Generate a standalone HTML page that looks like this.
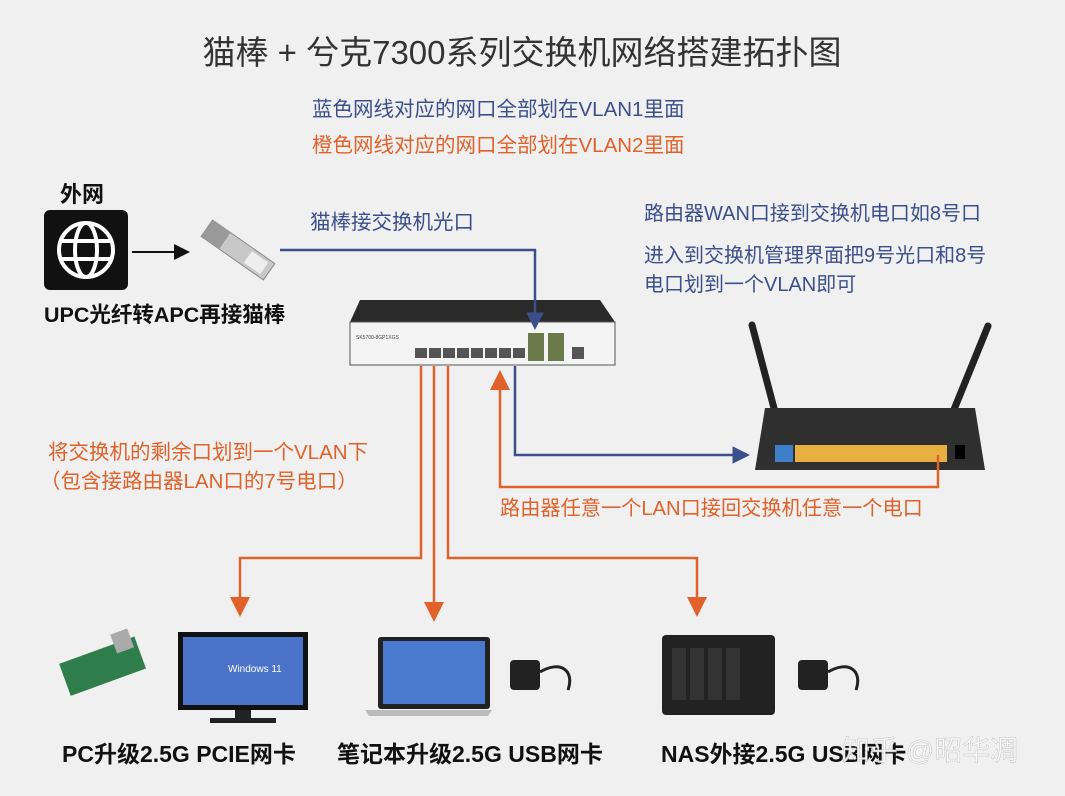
<!DOCTYPE html>
<html><head><meta charset="utf-8"><style>
body{margin:0;width:1065px;height:796px;background:#f0f0f0;overflow:hidden;font-family:"Liberation Sans","Noto Sans CJK SC",sans-serif}
svg{position:absolute;left:0;top:0}
</style></head><body>
<svg width="1065" height="796" viewBox="0 0 1065 796" font-family="Liberation Sans, Noto Sans CJK SC, sans-serif">
<defs>
<marker id="ab" markerWidth="7" markerHeight="7" refX="5" refY="3.5" orient="auto" viewBox="0 0 7 7"><path d="M0,0 L7,3.5 L0,7z" fill="#3b4f8c"/></marker>
<marker id="ao" markerWidth="8" markerHeight="8" refX="6" refY="4" orient="auto" viewBox="0 0 8 8"><path d="M0,0 L8,4 L0,8z" fill="#e0622a"/></marker>
<marker id="ak" markerWidth="8" markerHeight="8" refX="6" refY="4" orient="auto" viewBox="0 0 8 8"><path d="M0,0 L8,4 L0,8z" fill="#111"/></marker>
</defs>
<text x="522" y="64" font-size="33" fill="#333" text-anchor="middle">猫棒 + 兮克7300系列交换机网络搭建拓扑图</text>
<text x="312" y="116" font-size="20.5" fill="#3b4f8c">蓝色网线对应的网口全部划在VLAN1里面</text>
<text x="312" y="152" font-size="20.5" fill="#e0622a">橙色网线对应的网口全部划在VLAN2里面</text>
<text x="60" y="202" font-size="22" font-weight="bold" fill="#111">外网</text>
<rect x="44" y="210" width="84" height="80" rx="6" fill="#111"/>
<circle cx="86" cy="250" r="27" fill="none" stroke="#fff" stroke-width="4"/>
<ellipse cx="86" cy="250" rx="11" ry="27" fill="none" stroke="#fff" stroke-width="4"/>
<line x1="59" y1="241" x2="113" y2="241" stroke="#fff" stroke-width="4"/>
<line x1="59" y1="259" x2="113" y2="259" stroke="#fff" stroke-width="4"/>
<line x1="132" y1="252" x2="186" y2="252" stroke="#111" stroke-width="2" marker-end="url(#ak)"/>
<g transform="rotate(35 238 250)"><rect x="200" y="240" width="76" height="20" fill="#c8c8c8" stroke="#888"/><rect x="200" y="240" width="22" height="20" fill="#999"/><rect x="250" y="243" width="20" height="14" fill="#eee"/></g>
<text x="44" y="322" font-size="21.5" font-weight="bold" fill="#111">UPC光纤转APC再接猫棒</text>
<text x="310" y="229" font-size="20.5" fill="#3b4f8c">猫棒接交换机光口</text>
<text x="644" y="220" font-size="20" fill="#3b4f8c">路由器WAN口接到交换机电口如8号口</text>
<text x="644" y="262" font-size="20" fill="#3b4f8c">进入到交换机管理界面把9号光口和8号</text>
<text x="644" y="291" font-size="20" fill="#3b4f8c">电口划到一个VLAN即可</text>
<!-- switch -->
<path d="M360,300 L600,300 L615,322 L350,322 Z" fill="#2a2a2a"/>
<rect x="350" y="322" width="265" height="43" fill="#f4f4f4" stroke="#555"/>
<g fill="#555">
<rect x="415" y="348" width="12" height="10"/><rect x="429" y="348" width="12" height="10"/><rect x="443" y="348" width="12" height="10"/><rect x="457" y="348" width="12" height="10"/><rect x="471" y="348" width="12" height="10"/><rect x="485" y="348" width="12" height="10"/><rect x="499" y="348" width="12" height="10"/><rect x="513" y="348" width="12" height="10"/>
<rect x="528" y="333" width="16" height="28" fill="#6a7a4a"/><rect x="548" y="333" width="16" height="28" fill="#6a7a4a"/><rect x="572" y="347" width="12" height="12"/></g>
<text x="356" y="339" font-size="5" fill="#444">SK5700-8GP1XGS</text>
<!-- router -->
<line x1="752" y1="325" x2="775" y2="412" stroke="#222" stroke-width="7" stroke-linecap="round"/>
<line x1="988" y1="326" x2="953" y2="412" stroke="#222" stroke-width="7" stroke-linecap="round"/>
<path d="M765,408 L975,408 L985,470 L755,470 Z" fill="#2f2f2f"/>
<rect x="775" y="445" width="18" height="17" fill="#3d7fc8"/>
<rect x="795" y="445" width="152" height="17" fill="#e8b040"/>
<rect x="955" y="445" width="10" height="14" fill="#000"/>
<!-- blue connectors -->
<polyline points="280,250 535,250 535,325" fill="none" stroke="#3b4f8c" stroke-width="2.5" marker-end="url(#ab)"/>
<polyline points="515,366 515,455 745,455" fill="none" stroke="#3b4f8c" stroke-width="2.5" marker-end="url(#ab)"/>
<!-- orange -->
<polyline points="938,455 938,487 500,487 500,375" fill="none" stroke="#e0622a" stroke-width="2.5" marker-end="url(#ao)"/>
<polyline points="421,366 421,558 240,558 240,612" fill="none" stroke="#e0622a" stroke-width="2.5" marker-end="url(#ao)"/>
<polyline points="434,366 434,617" fill="none" stroke="#e0622a" stroke-width="2.5" marker-end="url(#ao)"/>
<polyline points="448,366 448,558 697,558 697,612" fill="none" stroke="#e0622a" stroke-width="2.5" marker-end="url(#ao)"/>
<text x="48" y="459" font-size="20.5" fill="#e0622a">将交换机的剩余口划到一个VLAN下</text>
<text x="40" y="488" font-size="20.5" fill="#e0622a">（包含接路由器LAN口的7号电口）</text>
<text x="500" y="515" font-size="20.2" fill="#e0622a">路由器任意一个LAN口接回交换机任意一个电口</text>
<!-- bottom devices -->
<g transform="rotate(-20 100 665)"><rect x="62" y="650" width="80" height="34" fill="#2e7d4a"/><rect x="120" y="640" width="18" height="20" fill="#aaa"/></g>
<rect x="178" y="632" width="130" height="78" fill="#111"/><rect x="183" y="637" width="120" height="68" fill="#4a73c9"/>
<text x="228" y="672" font-size="10" fill="#fff">Windows 11</text>
<rect x="235" y="710" width="16" height="10" fill="#222"/><rect x="210" y="718" width="66" height="5" fill="#222"/>
<rect x="378" y="637" width="112" height="72" rx="3" fill="#222"/><rect x="383" y="641" width="102" height="63" fill="#4a7ad0"/>
<path d="M365,710 L492,710 L488,716 L369,716 Z" fill="#bbb"/>
<rect x="510" y="660" width="30" height="30" rx="4" fill="#222"/><path d="M540,672 C560,660 575,670 568,690" fill="none" stroke="#222" stroke-width="3"/>
<rect x="662" y="635" width="113" height="80" rx="4" fill="#222"/>
<rect x="672" y="648" width="14" height="52" fill="#333"/><rect x="690" y="648" width="14" height="52" fill="#333"/><rect x="708" y="648" width="14" height="52" fill="#333"/><rect x="726" y="648" width="14" height="52" fill="#333"/>
<rect x="798" y="660" width="30" height="30" rx="4" fill="#222"/><path d="M828,672 C848,660 863,670 856,690" fill="none" stroke="#222" stroke-width="3"/>
<text x="62" y="762" font-size="23" font-weight="bold" fill="#111">PC升级2.5G PCIE网卡</text>
<text x="337" y="762" font-size="23" font-weight="bold" fill="#111">笔记本升级2.5G USB网卡</text>
<text x="661" y="762" font-size="23" font-weight="bold" fill="#111">NAS外接2.5G USB网卡</text>
<text x="842" y="760" font-size="28" fill="#fff" stroke="#bbb" stroke-width="0.5" opacity="0.9">知乎 @昭华凋</text>
</svg>
</body></html>
